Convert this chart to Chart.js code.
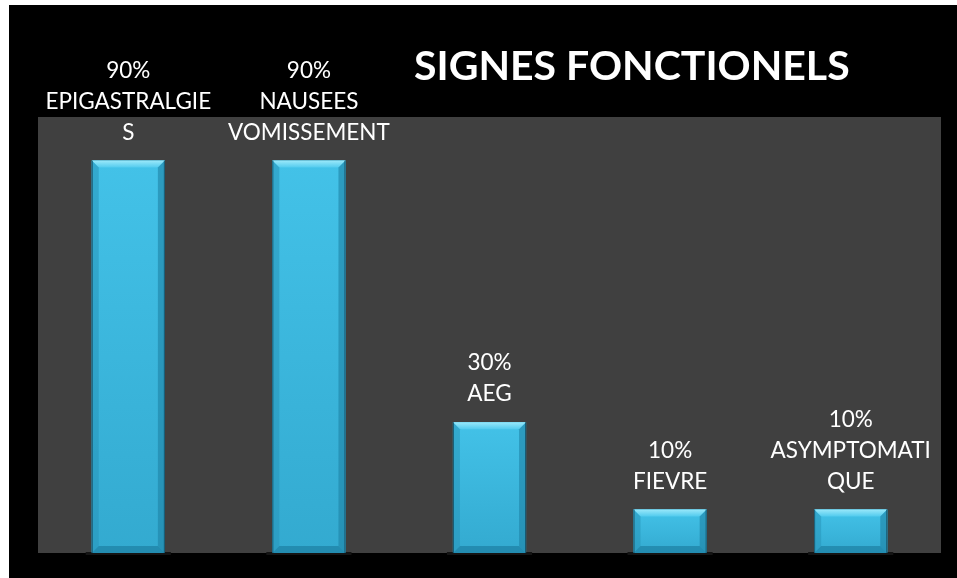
<!DOCTYPE html>
<html>
<head>
<meta charset="utf-8">
<script src="https://cdn.jsdelivr.net/npm/chart.js@4.4.1/dist/chart.umd.min.js"></script>
<style>
  html, body { margin: 0; padding: 0; background: #000; overflow: hidden; }
  #wrap { width: 957px; height: 578px; position: relative; }
  #chart { display: block; width: 957px; height: 578px; }
</style>
</head>
<body>
<div id="wrap"><canvas id="chart" width="957" height="578"></canvas></div>
<script>
// Signes fonctionnels - bar chart

// category labels, already split as they wrap in the picture
const categories = [
    ['EPIGASTRALGIE', 'S'],
    ['NAUSEES', 'VOMISSEMENT'],
    ['AEG'],
    ['FIEVRE'],
    ['ASYMPTOMATI', 'QUE']
];
const percentages = [90, 90, 30, 10, 10];
const chartTitle = 'SIGNES FONCTIONELS';

const FONT = 'Lato, "Open Sans", sans-serif';

// background: white margin, black frame, grey plot area
const backdrop = {
    id: 'backdrop',
    beforeDraw(chart) {
        const ctx = chart.ctx;
        const a = chart.chartArea;
        ctx.save();
        ctx.fillStyle = '#ffffff';
        ctx.fillRect(0, 0, 2000, 2000);
        ctx.fillStyle = '#000000';
        ctx.fillRect(9, 5, 2000, 2000);
        ctx.fillStyle = '#404040';
        ctx.fillRect(a.left, a.top, a.right - a.left, a.bottom - a.top);
        ctx.restore();
    }
};

// bevelled bars + floor shadow
const bevel = {
    id: 'bevel',
    afterDatasetsDraw(chart) {
        const ctx = chart.ctx;
        const meta = chart.getDatasetMeta(0);
        ctx.save();
        meta.data.forEach(function(bar) {
            const l = bar.x - bar.width / 2;
            const r = bar.x + bar.width / 2;
            const t = bar.y;
            const b = bar.base;
            const s = 7;

            // floor shadow
            ctx.fillStyle = '#141414';
            ctx.fillRect(l - 6, b - 1, r - l + 12, 3);

            // main face
            const g = ctx.createLinearGradient(0, t, 0, b);
            g.addColorStop(0, '#43c2e8');
            g.addColorStop(1, '#33aad0');
            ctx.fillStyle = g;
            ctx.fillRect(l, t, r - l, b - t);

            // top bevel
            const gt = ctx.createLinearGradient(0, t, 0, t + s);
            gt.addColorStop(0, '#9ae8fa');
            gt.addColorStop(1, '#52cbee');
            ctx.fillStyle = gt;
            ctx.beginPath();
            ctx.moveTo(l, t); ctx.lineTo(r, t); ctx.lineTo(r - s, t + s); ctx.lineTo(l + s, t + s);
            ctx.closePath(); ctx.fill();

            // left bevel
            ctx.fillStyle = 'rgba(40,150,185,0.55)';
            ctx.beginPath();
            ctx.moveTo(l, t); ctx.lineTo(l + s, t + s); ctx.lineTo(l + s, b - s); ctx.lineTo(l, b);
            ctx.closePath(); ctx.fill();

            // right bevel
            ctx.fillStyle = 'rgba(30,130,165,0.6)';
            ctx.beginPath();
            ctx.moveTo(r, t); ctx.lineTo(r - s, t + s); ctx.lineTo(r - s, b - s); ctx.lineTo(r, b);
            ctx.closePath(); ctx.fill();

            // bottom bevel
            ctx.fillStyle = 'rgba(25,120,155,0.6)';
            ctx.beginPath();
            ctx.moveTo(l, b); ctx.lineTo(l + s, b - s); ctx.lineTo(r - s, b - s); ctx.lineTo(r, b);
            ctx.closePath(); ctx.fill();

            // dark outline on the sides
            ctx.strokeStyle = 'rgba(20,70,90,0.8)';
            ctx.lineWidth = 1;
            ctx.beginPath();
            ctx.moveTo(l + 0.5, t); ctx.lineTo(l + 0.5, b);
            ctx.moveTo(r - 0.5, t); ctx.lineTo(r - 0.5, b);
            ctx.stroke();
        });
        ctx.restore();
    }
};

// value + category labels above bars, and the title
const labels = {
    id: 'labels',
    afterDraw(chart) {
        const ctx = chart.ctx;
        const meta = chart.getDatasetMeta(0);
        const lineH = 31;
        ctx.save();
        ctx.fillStyle = '#ffffff';
        ctx.textAlign = 'center';
        ctx.textBaseline = 'middle';
        ctx.font = '22.5px ' + FONT;
        meta.data.forEach(function(bar, i) {
            const lines = [percentages[i] + '%'].concat(categories[i]);
            const last = bar.y - 28;
            lines.forEach(function(txt, k) {
                ctx.fillText(txt, bar.x, last - (lines.length - 1 - k) * lineH);
            });
        });
        ctx.font = 'bold 41px ' + FONT;
        ctx.textAlign = 'left';
        ctx.textBaseline = 'alphabetic';
        ctx.fillText(chartTitle, 414, 80);
        ctx.restore();
    }
};

const ctx = document.getElementById('chart').getContext('2d');
new Chart(ctx, {
    type: 'bar',
    data: {
        labels: categories,
        datasets: [{
            data: percentages,
            backgroundColor: '#3dbce2',
            borderWidth: 0,
            categoryPercentage: 1,
            barPercentage: 0.405
        }]
    },
    options: {
        responsive: false,
        animation: false,
        devicePixelRatio: 1,
        layout: { padding: { left: 38, top: 117, right: 16, bottom: 25 } },
        scales: {
            x: { display: false },
            y: { display: false, min: 0, max: 100 }
        },
        plugins: {
            legend: { display: false },
            tooltip: { enabled: false }
        }
    },
    plugins: [backdrop, bevel, labels]
});
</script>
</body>
</html>
